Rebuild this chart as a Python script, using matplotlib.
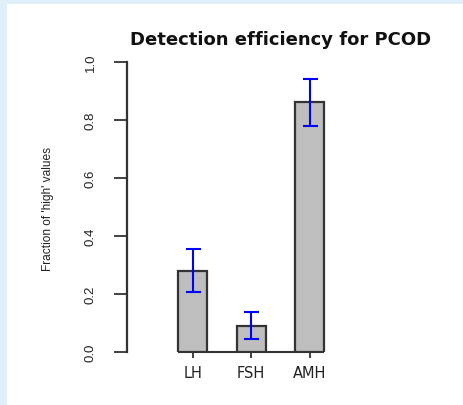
import numpy as np
import matplotlib
matplotlib.use('Agg')
import matplotlib.pyplot as plt
from matplotlib.patches import Rectangle

# values
hormones = ['LH', 'FSH', 'AMH']
fraction_high = [0.28, 0.09, 0.86]
err_low = [0.205, 0.043, 0.779]
err_high = [0.354, 0.136, 0.94]
yticks = [0.0, 0.2, 0.4, 0.6, 0.8, 1.0]
ytick_labels = ['0.0', '0.2', '0.4', '0.6', '0.8', '1.0']

narrow = ['Liberation Sans Narrow', 'Liberation Sans', 'DejaVu Sans']

fig = plt.figure(figsize=(4.64, 4.06), dpi=100)
fig.patch.set_facecolor('#dff0fa')
# white page inside the light blue frame
fig.patches.append(Rectangle((7 / 464, 0), 1, 1 - 5 / 406, transform=fig.transFigure,
                             facecolor='white', edgecolor='none', zorder=-5))

ax = fig.add_axes([126.7 / 464, 1 - 352.7 / 406, 308.6 / 464, 290 / 406])
ax.set_facecolor('none')
ax.set_zorder(2)

# R style barplot: width 1, space 1
x = np.arange(len(hormones)) * 2 + 1.5
vals = np.array(fraction_high)
lo = vals - np.array(err_low)
hi = np.array(err_high) - vals

ax.bar(x, vals, width=1, color='#bebebe', edgecolor='#333333', linewidth=1.6, zorder=2)
ax.plot([x[0] - 0.5, x[-1] + 0.5], [0, 0], color='#333333', lw=1.5, zorder=1,
        solid_capstyle='butt', clip_on=False)
ax.errorbar(x, vals, yerr=[lo, hi], fmt='none', ecolor='#0000ff', elinewidth=1.5,
            capsize=5.4, capthick=1.5, zorder=3, clip_on=False)

ax.set_xlim(-0.77, 9.81)
ax.set_ylim(0, 1)

for s in ['top', 'right', 'bottom']:
    ax.spines[s].set_visible(False)
ax.spines['left'].set_color('#333333')
ax.spines['left'].set_linewidth(1.6)

ax.set_yticks(yticks)
ax.set_yticklabels(ytick_labels, family=narrow, fontsize=9.5, rotation=90, va='center',
                   color='#222222')
ax.tick_params(axis='y', length=9.4, width=1.3, color='#333333', pad=12)

ax.set_xticks(x)
ax.set_xticklabels(hormones, fontsize=10.5, family='DejaVu Sans', color='#222222')
ax.tick_params(axis='x', length=4.3, width=1.3, color='#333333', pad=5)

ax.set_title('Detection efficiency for PCOD', fontsize=13, fontweight='bold', pad=12.5,
             color='#111111')
fig.text(48 / 464, 1 - 209 / 406, "Fraction of 'high' values", rotation=90,
         ha='center', va='center', fontsize=8.6, family=narrow, color='#222222')

fig.savefig('out.png', dpi=100, facecolor=fig.get_facecolor())
